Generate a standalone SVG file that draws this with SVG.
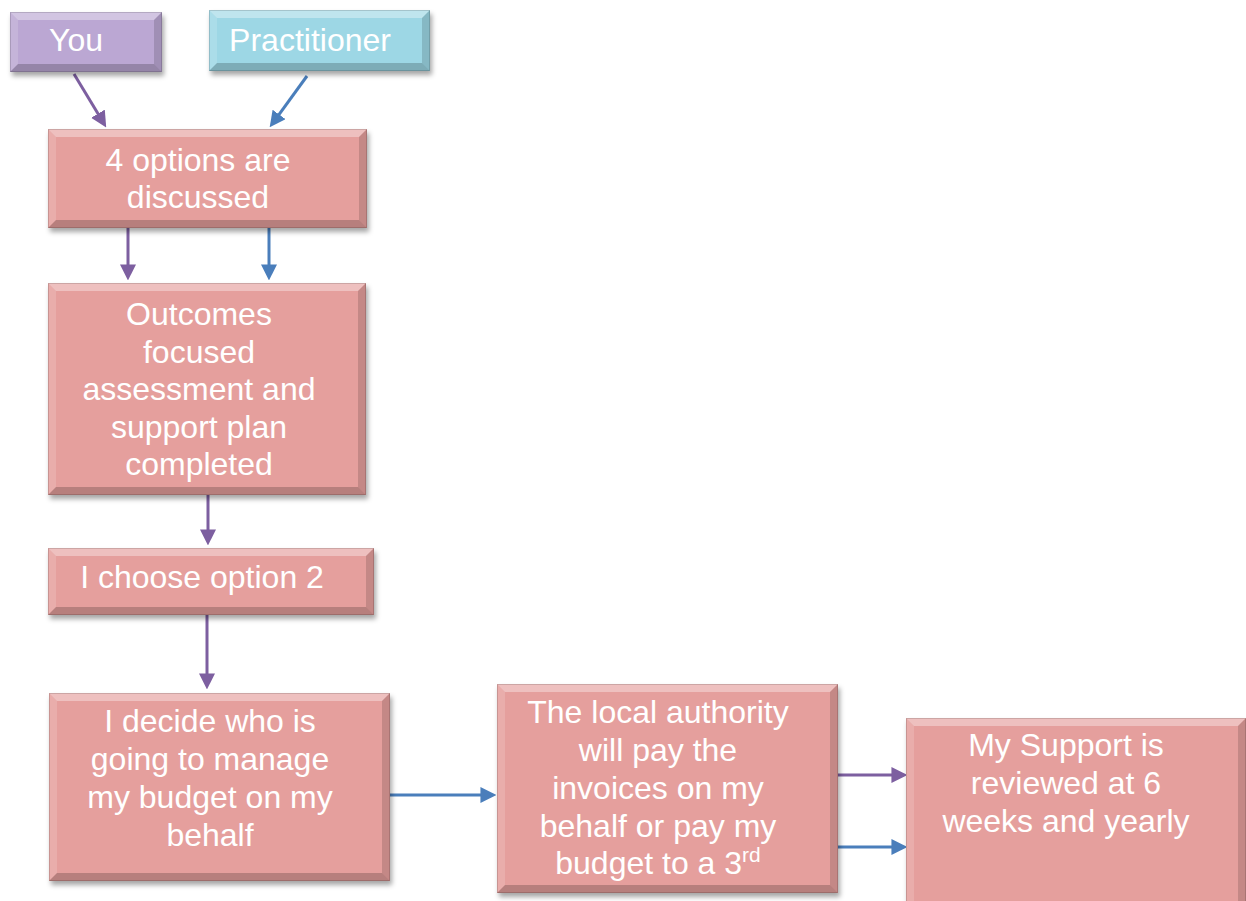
<svg xmlns="http://www.w3.org/2000/svg" width="1246" height="901" viewBox="0 0 1246 901">
<defs>
<filter id="sh" x="-10%" y="-10%" width="130%" height="130%">
<feDropShadow dx="2" dy="4" stdDeviation="2.5" flood-color="#000" flood-opacity="0.35"/>
</filter>
<marker id="ap" markerUnits="userSpaceOnUse" markerWidth="16" markerHeight="16" viewBox="0 0 14 14" refX="4" refY="7" orient="auto"><path d="M0,0 L14,7 L0,14 z" fill="#7D5FA0"/></marker>
<marker id="ab" markerUnits="userSpaceOnUse" markerWidth="16" markerHeight="16" viewBox="0 0 14 14" refX="4" refY="7" orient="auto"><path d="M0,0 L14,7 L0,14 z" fill="#4A7EBB"/></marker>
<style>
.pink{fill:#E59F9D}
.purple{fill:#BBA7D3}
.cyan{fill:#9DD7E5}
.bt{fill:#fff;fill-opacity:0.35}
.bl{fill:#fff;fill-opacity:0.15}
.br{fill:#000;fill-opacity:0.14}
.bb{fill:#000;fill-opacity:0.2}
.edge{fill:none;stroke:#000;stroke-opacity:0.14;stroke-width:1}
text{font-family:"Liberation Sans",Arial,sans-serif;font-size:32px;fill:#fff;text-anchor:middle}
.cp{stroke:#7D5FA0;stroke-width:3;fill:none;marker-end:url(#ap)}
.cb{stroke:#4A7EBB;stroke-width:3;fill:none;marker-end:url(#ab)}
</style>
</defs>

<g id="connectors">
<path class="cp" d="M74,74 L100.3,117.6"/>
<path class="cb" d="M307,76 L276.4,118.1"/>
<path class="cp" d="M128,228 L128,269"/>
<path class="cb" d="M269,228 L269,269"/>
<path class="cp" d="M208,495 L208,534"/>
<path class="cp" d="M207,615 L207,678"/>
<path class="cb" d="M390,795 L485,795"/>
<path class="cp" d="M838,775 L896,775"/>
<path class="cb" d="M838,847 L896,847"/>
</g>

<g id="you">
<rect class="purple" x="10" y="12" width="152" height="60" filter="url(#sh)"/>
<polygon class="bt" points="10,12 162,12 154,20 18,20"/>
<polygon class="bl" points="10,12 18,20 18,64 10,72"/>
<polygon class="br" points="162,12 162,72 154,64 154,20"/>
<polygon class="bb" points="10,72 162,72 154,64 18,64"/>
<rect class="edge" x="10.5" y="12.5" width="151" height="59"/>
<text x="76" y="51">You</text>
</g>

<g id="practitioner">
<rect class="cyan" x="209" y="10" width="221" height="61" filter="url(#sh)"/>
<polygon class="bt" points="209,10 430,10 422,18 217,18"/>
<polygon class="bl" points="209,10 217,18 217,63 209,71"/>
<polygon class="br" points="430,10 430,71 422,63 422,18"/>
<polygon class="bb" points="209,71 430,71 422,63 217,63"/>
<rect class="edge" x="209.5" y="10.5" width="220" height="60"/>
<text x="310" y="51">Practitioner</text>
</g>

<g id="options">
<rect class="pink" x="48" y="129" width="319" height="99" filter="url(#sh)"/>
<polygon class="bt" points="48,129 367,129 359,137 56,137"/>
<polygon class="bl" points="48,129 56,137 56,220 48,228"/>
<polygon class="br" points="367,129 367,228 359,220 359,137"/>
<polygon class="bb" points="48,228 367,228 359,220 56,220"/>
<rect class="edge" x="48.5" y="129.5" width="318" height="98"/>
<text x="198" y="171">4 options are</text>
<text x="198" y="208">discussed</text>
</g>

<g id="outcomes">
<rect class="pink" x="48" y="283" width="318" height="212" filter="url(#sh)"/>
<polygon class="bt" points="48,283 366,283 358,291 56,291"/>
<polygon class="bl" points="48,283 56,291 56,487 48,495"/>
<polygon class="br" points="366,283 366,495 358,487 358,291"/>
<polygon class="bb" points="48,495 366,495 358,487 56,487"/>
<rect class="edge" x="48.5" y="283.5" width="317" height="211"/>
<text x="199" y="325">Outcomes</text>
<text x="199" y="362.5">focused</text>
<text x="199" y="400">assessment and</text>
<text x="199" y="437.5">support plan</text>
<text x="199" y="475">completed</text>
</g>

<g id="choose">
<rect class="pink" x="48" y="548" width="326" height="67" filter="url(#sh)"/>
<polygon class="bt" points="48,548 374,548 366,556 56,556"/>
<polygon class="bl" points="48,548 56,556 56,607 48,615"/>
<polygon class="br" points="374,548 374,615 366,607 366,556"/>
<polygon class="bb" points="48,615 374,615 366,607 56,607"/>
<rect class="edge" x="48.5" y="548.5" width="325" height="66"/>
<text x="202" y="588">I choose option 2</text>
</g>

<g id="decide">
<rect class="pink" x="49" y="693" width="341" height="188" filter="url(#sh)"/>
<polygon class="bt" points="49,693 390,693 382,701 57,701"/>
<polygon class="bl" points="49,693 57,701 57,873 49,881"/>
<polygon class="br" points="390,693 390,881 382,873 382,701"/>
<polygon class="bb" points="49,881 390,881 382,873 57,873"/>
<rect class="edge" x="49.5" y="693.5" width="340" height="187"/>
<text x="210" y="732">I decide who is</text>
<text x="210" y="770">going to manage</text>
<text x="210" y="808">my budget on my</text>
<text x="210" y="846">behalf</text>
</g>

<g id="authority">
<rect class="pink" x="497" y="684" width="341" height="209" filter="url(#sh)"/>
<polygon class="bt" points="497,684 838,684 830,692 505,692"/>
<polygon class="bl" points="497,684 505,692 505,885 497,893"/>
<polygon class="br" points="838,684 838,893 830,885 830,692"/>
<polygon class="bb" points="497,893 838,893 830,885 505,885"/>
<rect class="edge" x="497.5" y="684.5" width="340" height="208"/>
<text x="658" y="723">The local authority</text>
<text x="658" y="761">will pay the</text>
<text x="658" y="799">invoices on my</text>
<text x="658" y="837">behalf or pay my</text>
<text x="658" y="874">budget to a 3<tspan dy="-12" font-size="21">rd</tspan></text>
</g>

<g id="review">
<rect class="pink" x="906" y="718" width="340" height="200" filter="url(#sh)"/>
<polygon class="bt" points="906,718 1246,718 1238,726 914,726"/>
<polygon class="bl" points="906,718 914,726 914,910 906,918"/>
<polygon class="br" points="1246,718 1246,918 1238,910 1238,726"/>
<rect class="edge" x="906.5" y="718.5" width="339" height="199"/>
<text x="1066" y="756">My Support is</text>
<text x="1066" y="794">reviewed at 6</text>
<text x="1066" y="832">weeks and yearly</text>
</g>
</svg>
